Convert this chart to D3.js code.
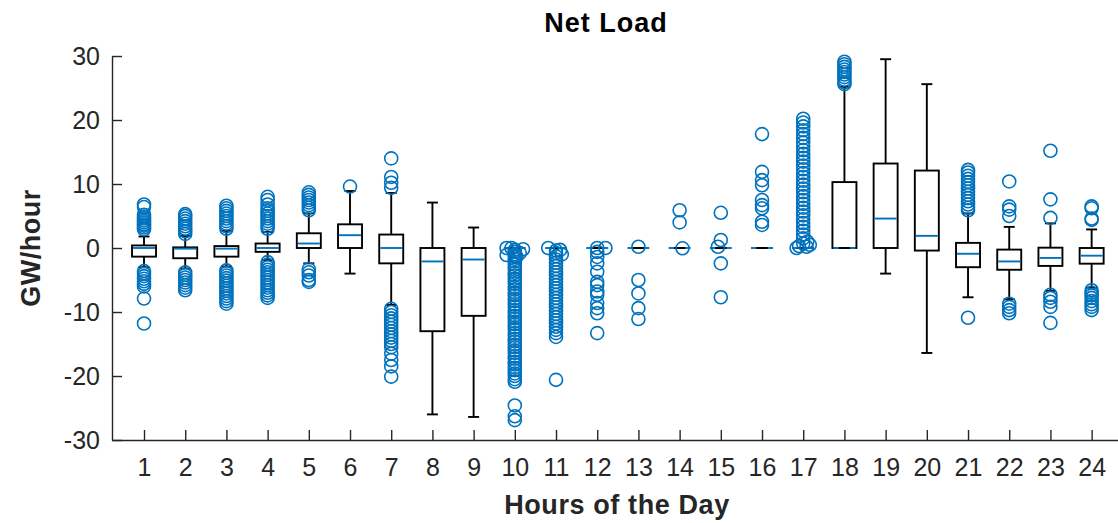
<!DOCTYPE html>
<html>
<head>
<meta charset="utf-8">
<script src="https://cdn.jsdelivr.net/npm/d3@7"></script>
<style>
  html, body { margin: 0; padding: 0; background: #fff; }
  svg { display: block; font-family: "Liberation Sans", Arial, Helvetica, sans-serif; }
</style>
</head>
<body>
<svg id="chart" width="1118" height="523"></svg>
<script>
// Hourly net load distribution (GW/hour), one box per hour of the day
const hours = [1,2,3,4,5,6,7,8,9,10,11,12,13,14,15,16,17,18,19,20,21,22,23,24];
const yTicks = [-30,-20,-10,0,10,20,30];

const q1          = [-1.35,-1.6,-1.35,-0.6, 0.0, 0.0,-2.4,-13.0,-10.6, 0,0,0,0,0,0,0,0, 0.0, 0.0,-0.4,-3.0,-3.4,-2.8,-2.45];
const medians     = [ 0.0,-0.1,-0.1, 0.0, 0.7, 2.0, 0.0, -2.1, -1.8, 0,0,0,0,0,0,0,0, 0.0, 4.6, 1.9,-0.9,-2.1,-1.55,-1.2];
const q3          = [ 0.4, 0.1, 0.3, 0.7, 2.3, 3.7, 2.1,  0.0,  0.0, 0,0,0,0,0,0,0,0,10.3,13.2,12.1, 0.8,-0.25, 0.05, 0.0];
const whiskerLow  = [-3.0,-3.2,-2.9,-1.9,-2.4,-4.0,-8.9,-26.0,-26.4, 0,0,0,0,0,0,0,0, 0.0,-4.0,-16.4,-7.7,-8.0,-6.7,-6.2];
const whiskerHigh = [ 1.8, 1.9, 2.7, 2.5, 5.4, 8.9, 8.6,  7.1,  3.2, 0,0,0,0,0,0,0,0,25.2,29.5,25.6, 5.4, 3.3, 3.85, 2.9];

const outliers = [
  [6.8,6.4,5.2,4.9,4.6,4.3,4.0,3.7,3.5,3.2,2.9,-3.6,-4.0,-4.4,-4.8,-5.2,-5.6,-6.0,-7.9,-11.8],
  [5.3,5.0,4.6,4.2,3.8,3.4,3.0,2.6,2.2,-3.8,-4.2,-4.6,-5.0,-5.4,-5.8,-6.2,-6.6],
  [6.6,6.2,5.8,5.4,5.0,4.6,4.2,3.8,3.4,3.0,-3.5,-3.9,-4.3,-4.7,-5.1,-5.5,-5.9,-6.3,-6.7,-7.1,-7.5,-7.9,-8.3,-8.7],
  [8.0,7.5,6.8,6.2,5.8,5.4,5.0,4.6,4.2,3.8,3.4,3.0,-2.2,-2.6,-3.0,-3.4,-3.8,-4.2,-4.6,-5.0,-5.4,-5.8,-6.2,-6.6,-7.0,-7.4,-7.8],
  [8.7,8.3,7.9,7.5,7.1,6.7,6.3,5.9,-3.3,-3.8,-4.3,-5.0,-5.3],
  [9.6],
  [14.0,11.1,10.2,9.4,-9.5,-10.0,-10.5,-11.0,-11.5,-12.0,-12.5,-13.0,-13.5,-14.0,-14.5,-15.0,-15.5,-16.5,-17.5,-18.5,-20.1],
  [],
  [],
  [-0.3,-0.6,-1.0,-1.3,-1.7,-2.1,-2.6,-3.0,-3.4,-3.9,-4.3,-4.8,-5.2,-5.6,-6.1,-6.5,-7.0,-7.4,-7.9,-8.3,-8.8,-9.2,-9.7,-10.1,-10.6,-11.0,-11.5,-11.9,-12.4,-12.8,-13.3,-13.7,-14.2,-14.6,-15.1,-15.5,-16.0,-16.4,-16.9,-17.3,-17.8,-18.2,-18.7,-19.1,-19.6,-20.0,-20.5,-20.9,-24.6,-26.3,-26.9],
  [-0.4,-0.8,-1.3,-1.8,-2.3,-2.8,-3.3,-3.8,-4.3,-4.8,-5.3,-5.8,-6.3,-6.8,-7.3,-7.8,-8.3,-8.8,-9.3,-9.8,-10.3,-10.8,-11.3,-11.8,-12.3,-12.8,-13.3,-13.9,-20.6],
  [0.0,-0.6,-1.4,-2.4,-3.7,-5.3,-5.8,-6.8,-7.3,-8.6,-9.4,-10.2,-13.3],
  [0.2,-5.0,-7.1,-9.4,-11.1],
  [5.9,4.0],
  [5.5,1.25,-2.4,-7.7],
  [17.8,11.9,10.6,9.8,7.5,6.7,6.2,4.1,3.6],
  [20.2,19.6,19.0,18.4,17.8,17.2,16.5,15.9,15.3,14.7,14.1,13.5,12.9,12.3,11.7,11.1,10.5,9.9,9.3,8.7,8.1,7.5,6.9,6.3,5.7,5.1,4.5,3.9,3.3,2.7,2.1,1.5],
  [29.1,28.7,28.3,27.9,27.5,27.1,26.7,26.3,25.9,25.6],
  [],
  [],
  [12.2,11.8,11.3,10.8,10.3,9.8,9.3,8.8,8.3,7.8,7.3,6.8,6.3,5.9,-10.9],
  [10.4,6.5,6.0,5.0,-8.7,-9.2,-9.7,-10.2],
  [15.2,7.6,4.7,-7.3,-7.8,-8.4,-9.2,-11.7],
  [6.5,6.2,4.6,4.4,-6.6,-7.0,-7.4,-7.8,-8.3,-8.8,-9.2,-9.7]
];

// Outliers that sit slightly beside their hour: [hour, value, offset in hours]
const sideOutliers = [
  [10, 0.0,-0.2],[10, 0.0,-0.08],[10,-0.2,0.2],[10,-1.1,-0.2],[10,-1.35,0.04],[10,-0.8,0.12],
  [11, 0.0,-0.19],[11,-0.3,0.1],[11,-1.0,0.14],
  [12, 0.0,0.2],
  [14,-0.05,0.07],
  [15, 0.2,-0.07],
  [17, 0.0,-0.16],[17, 0.3,-0.1],[17, 0.7,0.0],[17, 0.2,0.08],[17, 0.5,0.16],[17, 1.0,0.1]
];

const W = 1118, H = 523;
const plotLeft = 112, plotBottom = 440, plotTop = 56;

const x = d3.scaleLinear().domain([0.223, 24.64]).range([plotLeft, W]);
const y = d3.scaleLinear().domain([-30, 30]).range([plotBottom, plotTop]);

const blue = "#0072BD";
const ink = "#262626";
const boxHalf = 12, capHalf = 5.5;

const svg = d3.select("#chart");
svg.append("rect").attr("width", W).attr("height", H).attr("fill", "#fff");

// Axes (ticks point into the plot area); plain hyphen for negative labels
const xAxis = svg.append("g")
  .attr("transform", `translate(0,${plotBottom})`)
  .call(d3.axisBottom(x).tickValues(hours).tickFormat(d => String(d))
    .tickSizeInner(-10).tickSizeOuter(0).tickPadding(18));
const yAxis = svg.append("g")
  .attr("transform", `translate(${plotLeft},0)`)
  .call(d3.axisLeft(y).tickValues(yTicks).tickFormat(d => String(d))
    .tickSizeInner(-10).tickSizeOuter(0).tickPadding(12));

[xAxis, yAxis].forEach(g => {
  g.select(".domain").attr("stroke", ink).attr("stroke-width", 1.4);
  g.selectAll(".tick line").attr("stroke", ink).attr("stroke-width", 1.4);
  g.selectAll(".tick text").attr("fill", ink).style("font-size", "25px")
    .style("font-family", "'Liberation Sans', Arial, Helvetica, sans-serif");
});

// Boxes
const boxes = svg.append("g");
hours.forEach((h, i) => {
  const cx = x(h);
  const g = boxes.append("g");
  // whiskers
  g.append("line").attr("x1", cx).attr("x2", cx).attr("y1", y(q3[i])).attr("y2", y(whiskerHigh[i]))
    .attr("stroke", "#000").attr("stroke-width", 1.9);
  g.append("line").attr("x1", cx).attr("x2", cx).attr("y1", y(q1[i])).attr("y2", y(whiskerLow[i]))
    .attr("stroke", "#000").attr("stroke-width", 1.9);
  // box
  g.append("rect").attr("x", cx - boxHalf).attr("width", 2 * boxHalf)
    .attr("y", y(q3[i])).attr("height", Math.max(0, y(q1[i]) - y(q3[i])))
    .attr("fill", "none").attr("stroke", "#000").attr("stroke-width", 1.9);
  // median
  g.append("line").attr("x1", cx - boxHalf + 1).attr("x2", cx + boxHalf - 1)
    .attr("y1", y(medians[i])).attr("y2", y(medians[i]))
    .attr("stroke", blue).attr("stroke-width", 1.9);
  // whisker caps
  [whiskerHigh[i], whiskerLow[i]].forEach(v => {
    g.append("line").attr("x1", cx - capHalf).attr("x2", cx + capHalf)
      .attr("y1", y(v)).attr("y2", y(v))
      .attr("stroke", "#000").attr("stroke-width", 1.9);
  });
});

// Outliers
const pts = [];
hours.forEach((h, i) => outliers[i].forEach(v => pts.push([h, v])));
sideOutliers.forEach(([h, v, dx]) => pts.push([h + dx, v]));
svg.append("g").selectAll("circle").data(pts).join("circle")
  .attr("cx", d => x(d[0])).attr("cy", d => y(d[1])).attr("r", 6.5)
  .attr("fill", "none").attr("stroke", blue).attr("stroke-width", 1.6);

// Titles
svg.append("text").attr("x", 606).attr("y", 32).attr("text-anchor", "middle")
  .style("font-size", "27px").style("font-weight", "bold").style("letter-spacing", "1px")
  .attr("fill", "#000").text("Net Load");
svg.append("text").attr("x", 617).attr("y", 514).attr("text-anchor", "middle")
  .style("font-size", "27px").style("font-weight", "bold").style("letter-spacing", "0.6px")
  .attr("fill", ink).text("Hours of the Day");
svg.append("text").attr("transform", "translate(40,248) rotate(-90)").attr("text-anchor", "middle")
  .style("font-size", "27px").style("font-weight", "bold").style("letter-spacing", "0.5px")
  .attr("fill", ink).text("GW/hour");
</script>
</body>
</html>
